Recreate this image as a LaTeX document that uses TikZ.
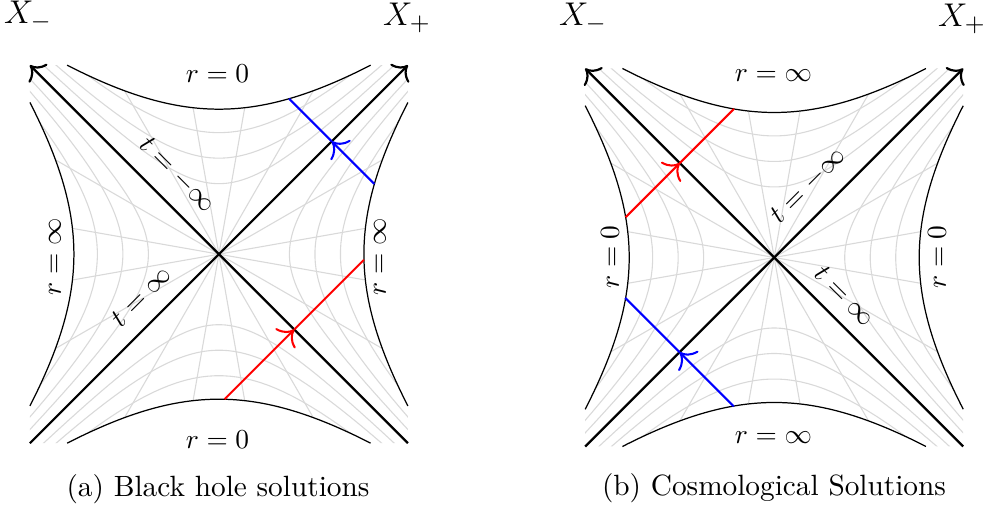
\documentclass[tikz,border=0pt]{standalone}
\usetikzlibrary{arrows.meta}
\newcommand{\drawpanel}[1]{%
  \coordinate (#1C) at (0,0);
  \coordinate (#1SW) at (-1.89,-1.89);
  \coordinate (#1NE) at (1.89,1.89);
  \coordinate (#1SE) at (1.89,-1.89);
  \coordinate (#1NW) at (-1.89,1.89);
  \begin{scope}
    \clip plot[domain=-1.5175:1.5175,samples=50] (\x,{1.45*sqrt(1+(\x/1.815)^2)})
      -- (1.89,1.89)
      -- plot[domain=1.5175:-1.5175,samples=50] ({1.45*sqrt(1+(\x/1.815)^2)},\x)
      -- (1.89,-1.89)
      -- plot[domain=1.5175:-1.5175,samples=50] (\x,{-1.45*sqrt(1+(\x/1.815)^2)})
      -- (-1.89,-1.89)
      -- plot[domain=-1.5175:1.5175,samples=50] ({-1.45*sqrt(1+(\x/1.815)^2)},\x)
      -- (-1.89,1.89) -- cycle;
    \foreach \hc in {0.705,0.96,1.215}{
      \draw[gridline] plot[domain=-1.8:1.8,samples=60] ({\hc*sinh(\x)},{\hc*cosh(\x)});
      \draw[gridline] plot[domain=-1.8:1.8,samples=60] ({\hc*sinh(\x)},{-\hc*cosh(\x)});
      \draw[gridline] plot[domain=-1.8:1.8,samples=60] ({\hc*cosh(\x)},{\hc*sinh(\x)});
      \draw[gridline] plot[domain=-1.8:1.8,samples=60] ({-\hc*cosh(\x)},{\hc*sinh(\x)});
    }
    \foreach \ang in {10,30,60,80,100,120,150,170,190,210,240,260,280,300,330,350}{
      \draw[gridline] (#1C) -- (\ang:3);
    }
  \end{scope}
  \draw[bound] plot[domain=-1.5175:1.5175,samples=60] (\x,{1.45*sqrt(1+(\x/1.815)^2)});
  \draw[bound] plot[domain=-1.5175:1.5175,samples=60] (\x,{-1.45*sqrt(1+(\x/1.815)^2)});
  \draw[bound] plot[domain=-1.5175:1.5175,samples=60] ({1.45*sqrt(1+(\x/1.815)^2)},\x);
  \draw[bound] plot[domain=-1.5175:1.5175,samples=60] ({-1.45*sqrt(1+(\x/1.815)^2)},\x);
  \draw[diag,-{To[scale=1.35]}] (#1SW) -- (#1NE);
  \draw[diag,-{To[scale=1.35]}] (#1SE) -- (#1NW);
}
\begin{document}
\begin{tikzpicture}[x=36.5pt,y=36.5pt,
  gridline/.style={black!15, line width=0.4pt},
  bound/.style={black, line width=0.45pt},
  diag/.style={black, line width=0.8pt},
  ray/.style={line width=0.75pt},
  raytip/.style={-{To[scale=1.5]}},
  lab/.style={inner sep=0pt, font=\fontsize{10}{12}\selectfont},
  biglab/.style={inner sep=0pt, font=\fontsize{13}{15}\selectfont},
  captext/.style={inner sep=0pt, font=\fontsize{10.7}{12}\selectfont}]
\useasboundingbox (0,0) rectangle (9.85,5.10);

% ---------- panel (a) ----------
\begin{scope}[shift={(2.189,2.558)}]
  \drawpanel{a}
  \coordinate (aBs) at (1.555,0.702);
  \coordinate (aBx) at (1.1285,1.1285);
  \coordinate (aBe) at (0.702,1.555);
  \coordinate (aRs) at (0.057,-1.450);
  \coordinate (aRx) at (0.7535,-0.7535);
  \coordinate (aRe) at (1.451,-0.056);
  \draw[ray,blue,raytip] (aBs) -- (aBx);
  \draw[ray,blue] (aBx) -- (aBe);
  \draw[ray,red,raytip] (aRs) -- (aRx);
  \draw[ray,red] (aRx) -- (aRe);
\end{scope}
\node[biglab] (aXm) at (0.28,4.94) {$X_-$};
\node[biglab] (aXp) at (4.07,4.92) {$X_+$};
\node[lab] (artop) at (2.175,4.365) {$r=0$};
\node[lab] (arbot) at (2.175,0.70) {$r=0$};
\node[lab,rotate=90] (arleft) at (0.55,2.53) {$r=\infty$};
\node[lab,rotate=90] (arright) at (3.80,2.53) {$r=\infty$};
\node[lab,rotate=-45] (atm) at (1.77,3.35) {$t=-\infty$};
\node[lab,rotate=45] (atp) at (1.41,2.14) {$t=\infty$};
\node[captext] (acap) at (2.18,0.21) {(a) Black hole solutions};

% ---------- panel (b) ----------
\begin{scope}[shift={(7.742,2.525)}]
  \drawpanel{b}
  \coordinate (bRs) at (-1.486,0.402);
  \coordinate (bRx) at (-0.944,0.944);
  \coordinate (bRe) at (-0.402,1.486);
  \coordinate (bBs) at (-0.404,-1.489);
  \coordinate (bBx) at (-0.9465,-0.9465);
  \coordinate (bBe) at (-1.489,-0.404);
  \draw[ray,red,raytip] (bRs) -- (bRx);
  \draw[ray,red] (bRx) -- (bRe);
  \draw[ray,blue,raytip] (bBs) -- (bBx);
  \draw[ray,blue] (bBx) -- (bBe);
\end{scope}
\node[biglab] (bXm) at (5.83,4.92) {$X_-$};
\node[biglab] (bXp) at (9.62,4.91) {$X_+$};
\node[lab] (brtop) at (7.735,4.34) {$r=\infty$};
\node[lab] (brbot) at (7.735,0.72) {$r=\infty$};
\node[lab,rotate=90] (brleft) at (6.10,2.53) {$r=0$};
\node[lab,rotate=90] (brright) at (9.37,2.53) {$r=0$};
\node[lab,rotate=45] (btm) at (8.08,3.24) {$t=-\infty$};
\node[lab,rotate=-45] (btp) at (8.45,2.14) {$t=\infty$};
\node[captext] (bcap) at (7.74,0.22) {(b) Cosmological Solutions};
\end{tikzpicture}
\end{document}
